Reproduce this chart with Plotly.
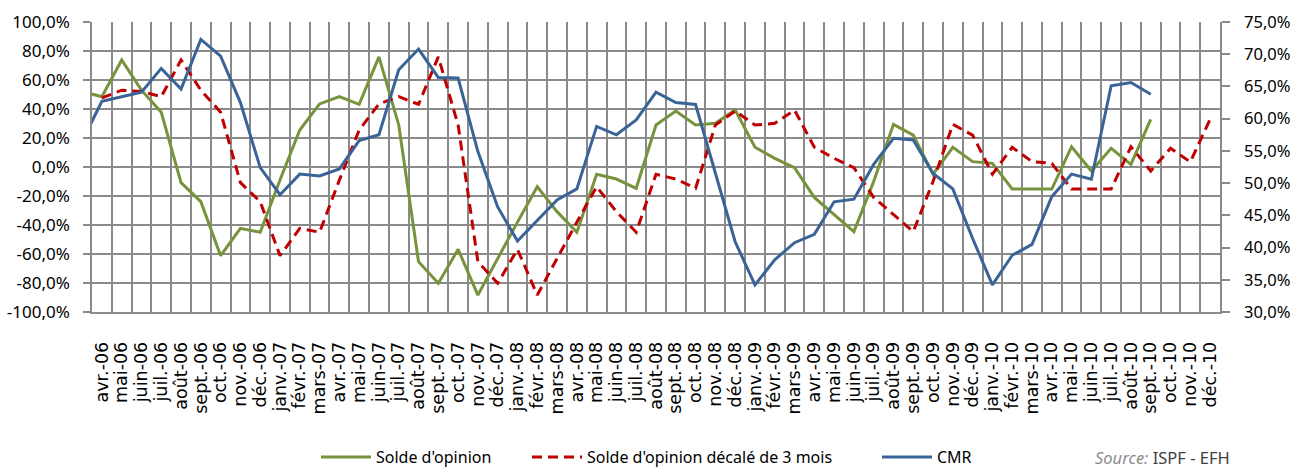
import plotly.graph_objects as go

# Categories (first one, "mars-06", lies just outside the visible range and is clipped)
categories = ["mars-06",
    "avr.-06", "mai-06", "juin-06", "juil.-06", "août-06", "sept.-06", "oct.-06", "nov.-06", "déc.-06",
    "janv.-07", "févr.-07", "mars-07", "avr.-07", "mai-07", "juin-07", "juil.-07", "août-07", "sept.-07", "oct.-07", "nov.-07", "déc.-07",
    "janv.-08", "févr.-08", "mars-08", "avr.-08", "mai-08", "juin-08", "juil.-08", "août-08", "sept.-08", "oct.-08", "nov.-08", "déc.-08",
    "janv.-09", "févr.-09", "mars-09", "avr.-09", "mai-09", "juin-09", "juil.-09", "août-09", "sept.-09", "oct.-09", "nov.-09", "déc.-09",
    "janv.-10", "févr.-10", "mars-10", "avr.-10", "mai-10", "juin-10", "juil.-10", "août-10", "sept.-10", "oct.-10", "nov.-10", "déc.-10"]

solde = [52,
    48.5, 73.8, 53, 37.7, -10.8, -23.9, -61.2, -42.3, -45,
    -9, 25.5, 43.5, 48.5, 43.2, 76, 29, -65.3, -80.2, -56.8, -88.3, -63,
    -38, -13.6, -30.8, -45, -5, -8.3, -14.7, 29, 38.6, 29, 30.1, 39.3,
    13.6, 6, -0.5, -21, -32.6, -44.6, -10, 29.4, 22, -5, 13.6, 3.7,
    2.5, -15.2, -15.2, -15.2, 14, -2.8, 12.9, 1.8, 32.9, None, None, None]

solde_decale = [None,
    47.6, 53, 52, 48.5, 73.8, 53, 37.7, -10.8, -23.9,
    -61.2, -42.3, -45, -9, 25.5, 43.5, 48.5, 43.2, 76, 29, -65.3, -80.2,
    -56.8, -88.3, -63, -38, -13.6, -30.8, -45, -5, -8.3, -14.7, 29, 38.6,
    29, 30.1, 39.3, 13.6, 6, -0.5, -21, -32.6, -44.6, -10, 29.4, 22,
    -5, 13.6, 3.7, 2.5, -15.2, -15.2, -15.2, 14, -2.8, 12.9, 3.5, 32.9]

cmr = [56.5,
    62.7, 63.4, 64.1, 67.8, 64.6, 72.3, 69.7, 62.5, 52.4,
    48.2, 51.4, 51.1, 52.2, 56.6, 57.5, 67.6, 70.8, 66.4, 66.3, 54.9, 46.3,
    41.0, 44.2, 47.4, 49.1, 58.8, 57.5, 59.8, 64.1, 62.5, 62.2, 51.4, 40.9,
    34.2, 38.1, 40.75, 42.05, 47.1, 47.5, 52.9, 56.95, 56.7, 51.5, 49.1, 41.4,
    34.2, 38.8, 40.5, 47.9, 51.4, 50.6, 65.1, 65.6, 63.8, None, None, None]

left_ticks = [-100, -80, -60, -40, -20, 0, 20, 40, 60, 80, 100]
left_labels = ["-100,0%", "-80,0%", "-60,0%", "-40,0%", "-20,0%", "0,0%", "20,0%", "40,0%", "60,0%", "80,0%", "100,0%"]
right_ticks = [30, 35, 40, 45, 50, 55, 60, 65, 70, 75]
right_labels = ["30,0%", "35,0%", "40,0%", "45,0%", "50,0%", "55,0%", "60,0%", "65,0%", "70,0%", "75,0%"]

GRID = "#8a8a8a"
GREEN = "#77933C"
RED = "#C00000"
BLUE = "#3A6497"

fig = go.Figure()
fig.add_trace(go.Scatter(x=categories, y=solde, name="Solde d'opinion", mode="lines",
                         line=dict(color=GREEN, width=3), legend="legend", showlegend=True))
fig.add_trace(go.Scatter(x=categories, y=solde_decale, name="Solde d'opinion décalé de 3 mois", mode="lines",
                         line=dict(color=RED, width=3, dash="10px,6px"), legend="legend2", showlegend=True))
fig.add_trace(go.Scatter(x=categories, y=cmr, name="CMR", mode="lines", yaxis="y2",
                         line=dict(color=BLUE, width=3), legend="legend3", showlegend=True))

W, H = 1291, 468
legfont = dict(family="Noto Sans", size=16, color="#000000")
leg_common = dict(orientation="h", xref="container", yref="container",
                  yanchor="middle", y=(H - 457) / H, xanchor="left",
                  font=legfont, itemwidth=50, bgcolor="rgba(0,0,0,0)", visible=True)

fig.update_layout(
    width=W, height=H,
    showlegend=True,
    margin=dict(l=92, r=71, t=22, b=156, autoexpand=False),
    paper_bgcolor="white", plot_bgcolor="white",
    legend=dict(x=316 / W, **leg_common),
    legend2=dict(x=527 / W, **leg_common),
    legend3=dict(x=877 / W, **leg_common),
    xaxis=dict(type="category", categoryorder="array", categoryarray=categories,
               range=[0.5, 57.5], tickmode="array", tickvals=categories[1:], ticktext=categories[1:],
               tickson="boundaries", showgrid=True, gridcolor=GRID, gridwidth=1.5,
               ticks="", tickangle=-90, ticklabelstandoff=21, automargin=False,
               tickfont=dict(family="DejaVu Sans", size=17.5, color="#000000"),
               showline=True, linecolor=GRID, linewidth=1.5),
    yaxis=dict(range=[-100, 100], tickmode="array", tickvals=left_ticks, ticktext=left_labels,
               showgrid=True, gridcolor=GRID, gridwidth=1.5, zeroline=False, automargin=False,
               ticks="outside", ticklen=7, tickcolor=GRID, tickwidth=1.5, ticklabelstandoff=10,
               tickfont=dict(family="Noto Sans", size=17, color="#000000"),
               showline=True, linecolor=GRID, linewidth=1.5),
    yaxis2=dict(range=[30, 75], overlaying="y", side="right", tickmode="array",
                tickvals=right_ticks, ticktext=right_labels, showgrid=False, zeroline=False,
                automargin=False,
                ticks="outside", ticklen=8, tickcolor=GRID, tickwidth=1.5, ticklabelstandoff=11,
                tickfont=dict(family="Noto Sans", size=16.5, color="#000000"),
                showline=True, linecolor=GRID, linewidth=1.5),
    annotations=[dict(xref="paper", yref="paper", x=(1232 - 92) / 1128, y=(312 - 457) / 290,
                      xanchor="right", yanchor="middle", showarrow=False,
                      text="<span style='color:#8c8c8c'><i>Source:</i></span> <span style='color:#404040'>ISPF - EFH</span>",
                      font=dict(family="Noto Sans", size=16.5))],
)

fig.write_html("out.html", config={"displayModeBar": False},
               post_script="document.body.style.margin='0';document.body.style.overflow='hidden';")
